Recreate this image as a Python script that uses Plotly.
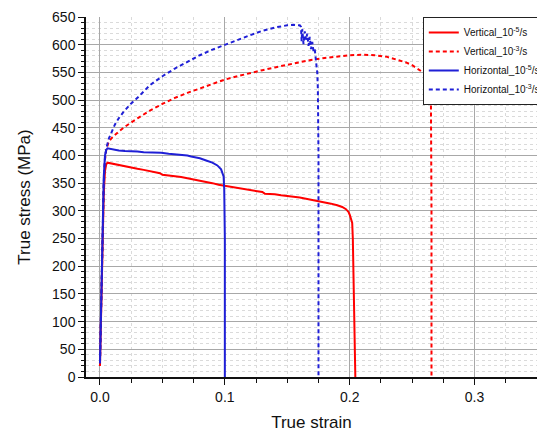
import plotly.graph_objects as go

# ---- data ----
v5_strain = [0.0, 0.001, 0.002, 0.003, 0.004, 0.005, 0.006, 0.008, 0.012, 0.016, 0.02, 0.025, 0.03,
             0.035, 0.04, 0.045, 0.048, 0.05, 0.055, 0.06, 0.065, 0.07, 0.075, 0.08, 0.085, 0.09,
             0.095, 0.1, 0.105, 0.11, 0.115, 0.12, 0.125, 0.13, 0.132, 0.135, 0.14, 0.145, 0.15,
             0.155, 0.16, 0.165, 0.17, 0.175, 0.18, 0.185, 0.19, 0.194, 0.197, 0.199, 0.2, 0.201,
             0.202, 0.2025, 0.203, 0.2035, 0.204, 0.2045]
v5_stress = [20, 140, 250, 330, 372, 384, 387, 386, 384, 383, 381, 378, 376,
             374, 372, 370, 368, 365, 364, 362, 361, 359, 357, 355, 352, 350,
             347, 345, 343, 341, 339, 337, 335, 334, 331, 331, 330, 328, 327,
             325, 324, 322, 320, 318, 316, 313, 310, 307, 303, 298, 293, 287,
             278, 250, 190, 120, 50, 0]

v3_strain = [0.0, 0.001, 0.002, 0.003, 0.004, 0.005, 0.007, 0.01, 0.015, 0.02, 0.03, 0.04, 0.05,
             0.06, 0.07, 0.08, 0.09, 0.1, 0.11, 0.12, 0.13, 0.14, 0.15, 0.16, 0.17, 0.18, 0.19,
             0.2, 0.21, 0.22, 0.23, 0.24, 0.245, 0.25, 0.255, 0.26, 0.263, 0.265, 0.2655, 0.2655]
v3_stress = [25, 150, 265, 345, 392, 410, 425, 433, 443, 452, 467, 481, 493,
             504, 513, 521, 529, 537, 543, 549, 554, 559, 564, 568, 573, 576, 579,
             581, 582, 581, 578, 572, 568, 563, 556, 548, 538, 520, 300, 0]

h5_strain = [0.0, 0.001, 0.002, 0.003, 0.004, 0.005, 0.006, 0.01, 0.015, 0.02, 0.023, 0.03, 0.035,
             0.04, 0.045, 0.049, 0.055, 0.06, 0.065, 0.07, 0.073, 0.076, 0.08, 0.085, 0.09,
             0.094, 0.097, 0.099, 0.0995, 0.1, 0.1]
h5_stress = [25, 160, 280, 360, 400, 410, 413, 411, 409, 408, 408, 407, 406,
             406, 405, 405, 403, 402, 400, 400, 398, 397, 395, 391, 387,
             382, 375, 362, 340, 250, 0]

h3_strain = [0.0, 0.001, 0.002, 0.003, 0.004, 0.005, 0.007, 0.01, 0.012, 0.015, 0.019, 0.025, 0.03,
             0.04, 0.05, 0.06, 0.07, 0.08, 0.09, 0.1, 0.11, 0.12, 0.13, 0.14, 0.15, 0.155,
             0.16, 0.161, 0.1615, 0.162, 0.163, 0.164, 0.165, 0.166, 0.167, 0.168, 0.169, 0.17,
             0.171, 0.172, 0.173, 0.174, 0.1745, 0.175, 0.175]
h3_stress = [25, 150, 270, 350, 395, 412, 430, 445, 456, 467, 479, 494, 504,
             527, 543, 557, 569, 581, 591, 600, 609, 617, 625, 631, 635, 636,
             635, 632, 606, 628, 601, 624, 609, 620, 598, 614, 592, 605,
             588, 592, 570, 550, 520, 400, 0]

series_names = ["Vertical_10<sup>-5</sup>/s", "Vertical_10<sup>-3</sup>/s",
                "Horizontal_10<sup>-5</sup>/s", "Horizontal_10<sup>-3</sup>/s"]

RED = "#ff0000"
BLUE = "#1f1fd6"

fig = go.Figure()
fig.add_trace(go.Scatter(x=v5_strain, y=v5_stress, mode="lines", name=series_names[0],
                         line=dict(color=RED, width=2)))
fig.add_trace(go.Scatter(x=v3_strain, y=v3_stress, mode="lines", name=series_names[1],
                         line=dict(color=RED, width=2, dash="4px,3px")))
fig.add_trace(go.Scatter(x=h5_strain, y=h5_stress, mode="lines", name=series_names[2],
                         line=dict(color=BLUE, width=2)))
fig.add_trace(go.Scatter(x=h3_strain, y=h3_stress, mode="lines", name=series_names[3],
                         line=dict(color=BLUE, width=2, dash="4px,3px")))

FONT = "Liberation Sans, Arial, sans-serif"

# the page adds an 8px body margin, so the figure is sized to fit the window
fig.update_layout(
    width=537, height=425,
    margin=dict(l=78, r=8, t=9, b=56, autoexpand=False),
    paper_bgcolor="white", plot_bgcolor="white",
    font=dict(family=FONT, color="#111"),
    showlegend=True,
    legend=dict(x=1.0195, y=1.0, xanchor="right", yanchor="top",
                bgcolor="white", bordercolor="#222", borderwidth=1,
                font=dict(size=10, family=FONT), tracegroupgap=0,
                itemwidth=30),
    xaxis=dict(range=[-0.0112, 0.35], tickmode="array", automargin=False,
               tickvals=[0.0, 0.1, 0.2, 0.3], ticktext=["0.0", "0.1", "0.2", "0.3"],
               showline=True, linecolor="#111", linewidth=1.5,
               ticks="outside", ticklen=6, tickwidth=1.3, tickcolor="#111",
               tickfont=dict(size=14),
               showgrid=True, gridcolor="#a8a8a8", gridwidth=1, zeroline=False,
               minor=dict(dtick=0.025, tick0=0, ticks="outside", ticklen=4, tickwidth=1.2,
                          tickcolor="#111", showgrid=True, gridcolor="#dadada",
                          griddash="dot", gridwidth=1),
               title=dict(text="True strain", font=dict(size=17), standoff=13)),
    yaxis=dict(range=[0, 650], dtick=50, tick0=0, automargin=False,
               showline=True, linecolor="#111", linewidth=1.5,
               ticks="outside", ticklen=6, tickwidth=1.3, tickcolor="#111",
               tickfont=dict(size=14),
               showgrid=True, gridcolor="#a8a8a8", gridwidth=1, zeroline=False,
               minor=dict(dtick=10, tick0=0, ticks="outside", ticklen=3, tickwidth=1.2,
                          tickcolor="#111", showgrid=True, gridcolor="#dadada",
                          griddash="dot", gridwidth=1),
               title=dict(text="True stress (MPa)", font=dict(size=17), standoff=17)),
)

fig.write_html("out.html")
